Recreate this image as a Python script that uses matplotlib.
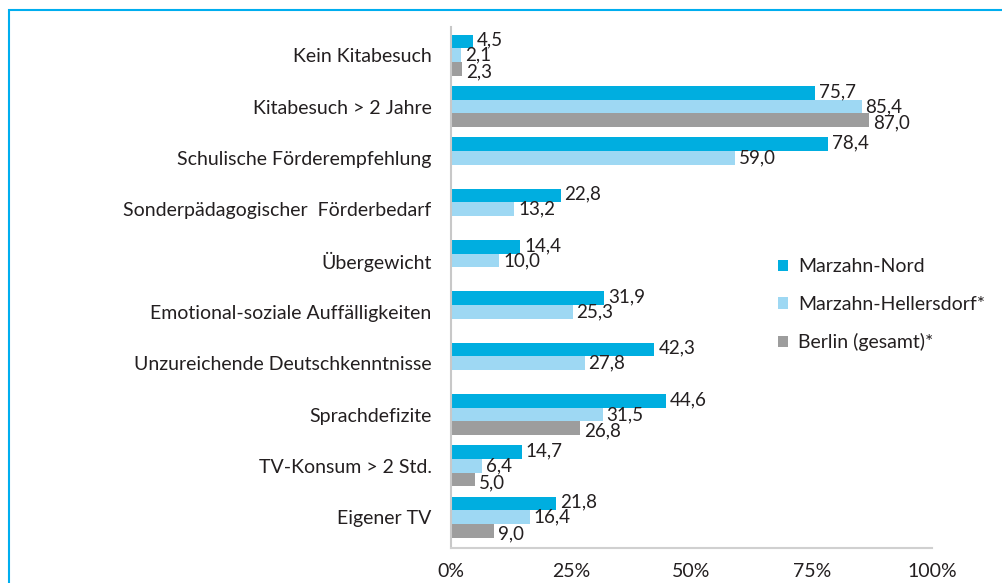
import numpy as np
import matplotlib
matplotlib.use("Agg")
import matplotlib.pyplot as plt
from matplotlib.patches import Rectangle

categories = ["Kein Kitabesuch", "Kitabesuch > 2 Jahre", "Schulische Förderempfehlung",
              "Sonderpädagogischer  Förderbedarf", "Übergewicht",
              "Emotional-soziale Auffälligkeiten", "Unzureichende Deutschkenntnisse",
              "Sprachdefizite", "TV-Konsum > 2 Std.", "Eigener TV"]
marzahn_nord = [4.5, 75.7, 78.4, 22.8, 14.4, 31.9, 42.3, 44.6, 14.7, 21.8]
marzahn_hellersdorf = [2.1, 85.4, 59.0, 13.2, 10.0, 25.3, 27.8, 31.5, 6.4, 16.4]
berlin = [2.3, 87.0, None, None, None, None, None, 26.8, 5.0, 9.0]
series_names = ["Marzahn-Nord", "Marzahn-Hellersdorf*", "Berlin (gesamt)*"]
x_ticks = [0, 25, 50, 75, 100]
x_tick_labels = ["0%", "25%", "50%", "75%", "100%"]

colors = ["#00AEE0", "#9ED8F3", "#9D9D9D"]
text_color = "#231F20"
plt.rcParams['font.family'] = ['Lato', 'DejaVu Sans']

fig = plt.figure(figsize=(10.02, 5.83), dpi=100)
ax = fig.add_axes([451/1002, 1 - 548/583, (932-451)/1002, (548-27)/583])

# frame border (cyan) at left and top
fig.add_artist(Rectangle((9/1002, -0.1), 1.2, (583-10)/583 + 0.1, transform=fig.transFigure,
                         fill=False, edgecolor="#00AEEF", linewidth=1.5))

bh = 0.265
label_shift = [-0.03, 0.0, 0.06]
y = np.arange(len(categories))
all_series = [marzahn_nord, marzahn_hellersdorf, berlin]
for i, (vals, c, name) in enumerate(zip(all_series, colors, series_names)):
    offs = (i - 1) * bh
    ys, vs = [], []
    for yy, v in zip(y, vals):
        if v is not None:
            ys.append(yy + offs)
            vs.append(v)
    ax.barh(ys, vs, height=bh, color=c, label=name)
    for yy, v in zip(ys, vs):
        ax.text(v + 0.8, yy + label_shift[i], f"{v:.1f}".replace(".", ","), va="center",
                ha="left", fontsize=13.5, color=text_color)

ax.set_ylim(len(categories) - 0.4, -0.55)
ax.set_xlim(0, 100)
ax.set_yticks(y)
ax.set_yticklabels(categories, fontsize=14, color=text_color)
ax.set_xticks(x_ticks)
ax.set_xticklabels(x_tick_labels, fontsize=14, color=text_color)
ax.tick_params(axis="both", length=0)
ax.tick_params(axis="y", pad=14)
ax.tick_params(axis="x", pad=11)
for s in ["top", "right"]:
    ax.spines[s].set_visible(False)
ax.spines["left"].set_color("#C8C8C8")
ax.spines["bottom"].set_color("#D0D0D0")
ax.spines["left"].set_linewidth(1.5)
ax.spines["bottom"].set_linewidth(1.5)

leg = fig.legend(loc="upper left", bbox_to_anchor=(760/1002, 1 - 241/583), frameon=False,
                 fontsize=14, handlelength=0.55, handleheight=0.55, handletextpad=0.5,
                 labelspacing=1.05, labelcolor=text_color)

fig.savefig("out.png", dpi=100)
